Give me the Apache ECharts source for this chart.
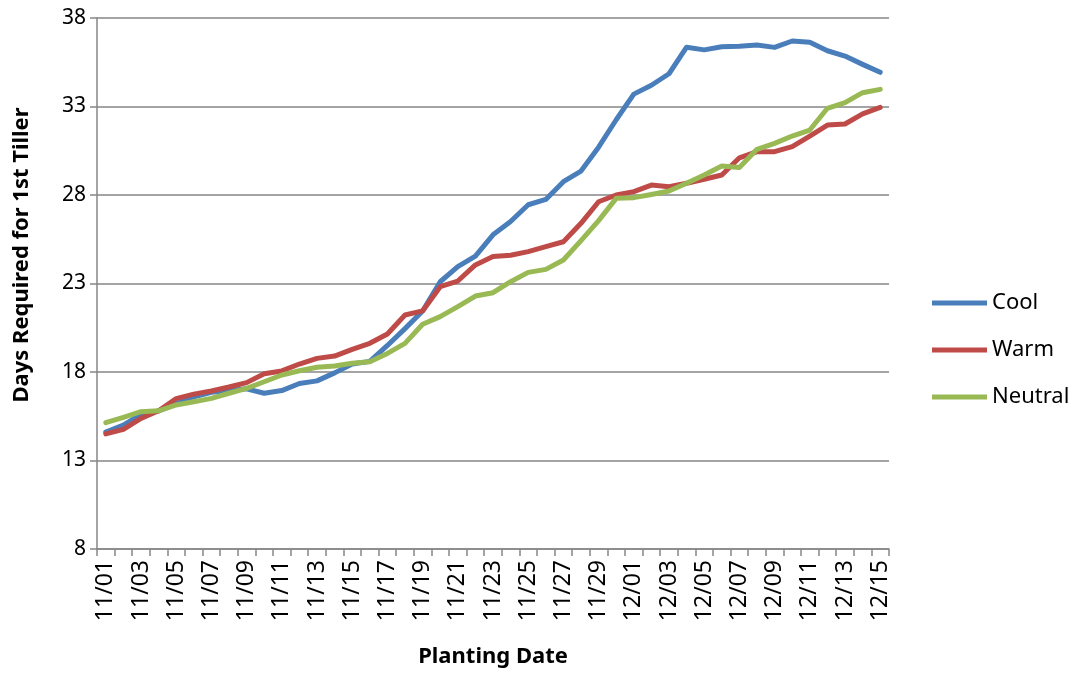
<!DOCTYPE html>
<html>
<head>
<meta charset="utf-8">
<script src="https://cdn.jsdelivr.net/npm/echarts@6/dist/echarts.min.js"></script>
<style>
html,body{margin:0;padding:0;background:#fff;}
#chart{width:1076px;height:674px;}
</style>
</head>
<body>
<div id="chart"></div>
<script>
const categories = ["11/01","11/02","11/03","11/04","11/05","11/06","11/07","11/08","11/09","11/10",
"11/11","11/12","11/13","11/14","11/15","11/16","11/17","11/18","11/19","11/20",
"11/21","11/22","11/23","11/24","11/25","11/26","11/27","11/28","11/29","11/30",
"12/01","12/02","12/03","12/04","12/05","12/06","12/07","12/08","12/09","12/10",
"12/11","12/12","12/13","12/14","12/15"];

const cool = [14.6,15.0,15.6,15.8,16.2,16.6,16.85,16.95,17.05,16.8,
16.95,17.35,17.5,17.95,18.45,18.6,19.5,20.45,21.45,23.1,
23.95,24.55,25.75,26.5,27.45,27.75,28.75,29.35,30.7,32.25,
33.7,34.2,34.85,36.35,36.2,36.38,36.4,36.47,36.34,36.7,
36.63,36.15,35.85,35.38,34.93];

const warm = [14.5,14.76,15.38,15.81,16.5,16.75,16.93,17.15,17.4,17.9,
18.06,18.45,18.77,18.9,19.28,19.62,20.15,21.22,21.45,22.82,
23.14,24.05,24.52,24.6,24.8,25.08,25.36,26.4,27.62,28.0,
28.19,28.56,28.47,28.66,28.89,29.13,30.1,30.45,30.45,30.73,
31.33,31.95,32.01,32.58,32.95];

const neutral = [15.14,15.44,15.76,15.81,16.14,16.32,16.51,16.8,17.08,17.45,
17.83,18.07,18.27,18.34,18.49,18.58,19.05,19.62,20.7,21.13,
21.69,22.29,22.48,23.1,23.63,23.8,24.33,25.42,26.55,27.81,
27.85,28.03,28.23,28.66,29.13,29.64,29.56,30.58,30.92,31.33,
31.67,32.9,33.22,33.78,33.97];

const yMin = 8, yMax = 38, yStep = 5;
const yTitle = 'Days Required for 1st Tiller';
const xTitle = 'Planting Date';

const FONT = "'Noto Sans', 'Open Sans', sans-serif";
const AX = '#868686';

const chart = echarts.init(document.getElementById('chart'), null, {renderer:'canvas'});
const mk = (name, data, color) => ({
  name, type:'line', data, symbol:'none', smooth:false,
  lineStyle:{width:5, color, cap:'round', join:'round'},
  itemStyle:{color},
  animation:false
});
chart.setOption({
  animation:false,
  backgroundColor:'#ffffff',
  grid:{left:97, right:187, top:18, bottom:125, containLabel:false},
  legend:{
    orient:'vertical', left:927, top:287,
    icon:'rect', itemWidth:55, itemHeight:5, itemGap:25,
    textStyle:{fontFamily:FONT, fontSize:22, color:'#000'},
    data:['Cool','Warm','Neutral']
  },
  graphic:[{
    type:'text', x:22, y:255, rotation:Math.PI/2,
    style:{text:yTitle, font:"bold 22px 'Noto Sans', 'Open Sans', sans-serif", fill:'#000', align:'center', verticalAlign:'middle'}
  }],
  xAxis:{
    type:'category', data:categories, boundaryGap:true,
    name:xTitle, nameLocation:'middle', nameGap:97,
    nameTextStyle:{fontFamily:FONT, fontSize:22, fontWeight:'bold', color:'#000'},
    axisLine:{lineStyle:{color:AX, width:1.5}},
    axisTick:{show:true, interval:0, alignWithLabel:false, length:7, lineStyle:{color:AX, width:1.5}},
    axisLabel:{interval:1, rotate:90, margin:11, fontFamily:FONT, fontSize:23, color:'#000'},
    splitLine:{show:false}
  },
  yAxis:{
    type:'value', min:yMin, max:yMax, interval:yStep,
    axisLine:{show:true, lineStyle:{color:AX, width:1.5}},
    axisTick:{show:true, length:7, lineStyle:{color:AX, width:1.5}},
    axisLabel:{margin:11, fontFamily:FONT, fontSize:21, color:'#000'},
    splitLine:{show:true, lineStyle:{color:AX, width:1.5}}
  },
  series:[
    mk('Cool', cool, '#4A7EBB'),
    mk('Warm', warm, '#BE4B48'),
    mk('Neutral', neutral, '#98B954')
  ]
});
</script>
</body>
</html>
